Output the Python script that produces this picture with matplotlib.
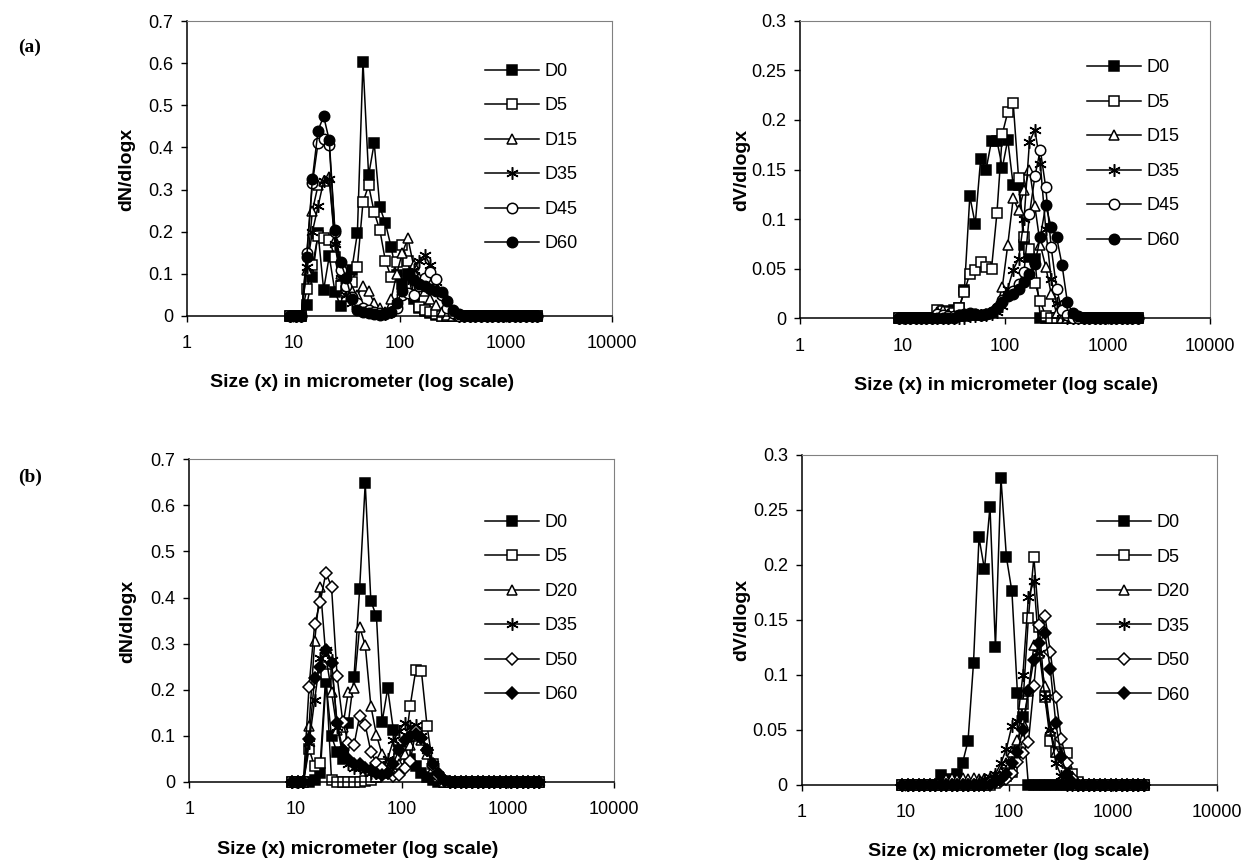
import matplotlib
matplotlib.use("Agg")
import matplotlib.pyplot as plt
from matplotlib.ticker import FuncFormatter, FixedLocator, NullLocator

plt.rcParams['font.family'] = ['Liberation Sans', 'DejaVu Sans']

# particle size classes (micrometer)
size = [9.30, 10.50, 11.87, 13.40, 15.14, 17.10, 19.31, 21.81, 24.64, 27.83,
        31.43, 35.50, 40.10, 45.29, 51.16, 57.78, 65.27, 73.72, 83.27, 94.05,
        106.2, 120.0, 135.5, 153.1, 172.9, 195.3, 220.6, 249.2, 281.4, 317.9,
        359.1, 405.6, 458.1, 517.4, 584.4, 660.1, 745.6, 842.2, 951.2, 1074,
        1214, 1371, 1548, 1749, 1975]

# (a) number distribution
a_labels = ["D0", "D5", "D15", "D35", "D45", "D60"]
a_n_d0 = [0, 0, 0, 0.026, 0.093, 0.198, 0.062, 0.142, 0.058, 0.024,
          0.09, 0.11, 0.196, 0.603, 0.334, 0.41, 0.258, 0.22, 0.164, 0.097,
          0.077, 0.1, 0.04, 0.02, 0.012, 0.006, 0.002, 0, 0, 0,
          0, 0, 0, 0, 0, 0, 0, 0, 0, 0, 0, 0, 0, 0, 0]
a_n_d5 = [0, 0, 0, 0.063, 0.12, 0.19, 0.185, 0.18, 0.14, 0.07,
          0.06, 0.08, 0.117, 0.27, 0.31, 0.246, 0.204, 0.13, 0.093, 0.128,
          0.168, 0.13, 0.05, 0.022, 0.015, 0.01, 0.004, 0, 0, 0,
          0, 0, 0, 0, 0, 0, 0, 0, 0, 0, 0, 0, 0, 0, 0]
a_n_d15 = [0, 0, 0, 0.11, 0.25, 0.31, 0.32, 0.33, 0.18, 0.1,
           0.07, 0.06, 0.05, 0.07, 0.06, 0.03, 0.02, 0.01, 0.04, 0.1,
           0.15, 0.184, 0.12, 0.09, 0.06, 0.04, 0.025, 0.01, 0.003, 0,
           0, 0, 0, 0, 0, 0, 0, 0, 0, 0, 0, 0, 0, 0, 0]
a_n_d35 = [0, 0, 0, 0.117, 0.2, 0.26, 0.32, 0.325, 0.17, 0.09,
           0.05, 0.03, 0.02, 0.015, 0.01, 0.008, 0.005, 0.005, 0.01, 0.03,
           0.06, 0.09, 0.11, 0.13, 0.145, 0.12, 0.08, 0.05, 0.025, 0.008,
           0, 0, 0, 0, 0, 0, 0, 0, 0, 0, 0, 0, 0, 0, 0]
a_n_d45 = [0, 0, 0, 0.15, 0.315, 0.41, 0.42, 0.405, 0.2, 0.11,
           0.07, 0.045, 0.03, 0.02, 0.015, 0.01, 0.008, 0.006, 0.01, 0.02,
           0.05, 0.055, 0.05, 0.07, 0.09, 0.105, 0.087, 0.05, 0.02, 0.006,
           0, 0, 0, 0, 0, 0, 0, 0, 0, 0, 0, 0, 0, 0, 0]
a_n_d60 = [0, 0, 0, 0.14, 0.326, 0.44, 0.474, 0.417, 0.204, 0.129,
           0.09, 0.04, 0.015, 0.01, 0.008, 0.005, 0.003, 0.005, 0.01, 0.03,
           0.06, 0.1, 0.085, 0.075, 0.07, 0.065, 0.06, 0.058, 0.035, 0.015,
           0.005, 0, 0, 0, 0, 0, 0, 0, 0, 0, 0, 0, 0, 0, 0]

# (a) volume distribution
a_v_d0 = [0, 0, 0, 0, 0, 0, 0, 0, 0, 0.005,
          0.008, 0.01, 0.029, 0.123, 0.095, 0.161, 0.15, 0.179, 0.179, 0.152,
          0.18, 0.134, 0.134, 0.074, 0.062, 0.06, 0, 0, 0, 0,
          0, 0, 0, 0, 0, 0, 0, 0, 0, 0, 0, 0, 0, 0, 0]
a_v_d5 = [0, 0, 0, 0, 0, 0, 0, 0.008, 0.007, 0.006,
          0.005, 0.01, 0.027, 0.045, 0.049, 0.057, 0.052, 0.05, 0.106, 0.186,
          0.208, 0.217, 0.141, 0.082, 0.07, 0.036, 0.017, 0.002, 0, 0,
          0, 0, 0, 0, 0, 0, 0, 0, 0, 0, 0, 0, 0, 0, 0]
a_v_d15 = [0, 0, 0, 0, 0, 0, 0, 0.006, 0.008, 0.004,
           0.002, 0.002, 0.002, 0.003, 0.003, 0.003, 0.004, 0.006, 0.012, 0.032,
           0.074, 0.121, 0.109, 0.129, 0.15, 0.113, 0.074, 0.052, 0.025, 0.005,
           0, 0, 0, 0, 0, 0, 0, 0, 0, 0, 0, 0, 0, 0, 0]
a_v_d35 = [0, 0, 0, 0, 0, 0, 0, 0, 0, 0,
           0, 0, 0, 0.002, 0.002, 0.003, 0.003, 0.004, 0.006, 0.012,
           0.03, 0.049, 0.06, 0.1, 0.178, 0.19, 0.156, 0.09, 0.04, 0.015,
           0.005, 0, 0, 0, 0, 0, 0, 0, 0, 0, 0, 0, 0, 0, 0]
a_v_d45 = [0, 0, 0, 0, 0, 0, 0, 0.004, 0.003, 0.002,
           0.002, 0.003, 0.003, 0.004, 0.004, 0.003, 0.004, 0.006, 0.01, 0.018,
           0.024, 0.028, 0.035, 0.047, 0.105, 0.143, 0.17, 0.132, 0.072, 0.03,
           0.008, 0.003, 0, 0, 0, 0, 0, 0, 0, 0, 0, 0, 0, 0, 0]
a_v_d60 = [0, 0, 0, 0, 0, 0, 0, 0, 0, 0,
           0, 0.003, 0.004, 0.005, 0.004, 0.003, 0.004, 0.006, 0.01, 0.016,
           0.022, 0.025, 0.03, 0.037, 0.045, 0.055, 0.082, 0.114, 0.092, 0.082,
           0.054, 0.016, 0.005, 0.002, 0, 0, 0, 0, 0, 0, 0, 0, 0, 0, 0]

# (b) number distribution
b_labels = ["D0", "D5", "D20", "D35", "D50", "D60"]
b_n_d0 = [0, 0, 0, 0, 0.005, 0.02, 0.216, 0.099, 0.064, 0.05,
          0.129, 0.227, 0.418, 0.648, 0.393, 0.359, 0.13, 0.203, 0.113, 0.07,
          0.06, 0.05, 0.035, 0.02, 0.01, 0.004, 0, 0, 0, 0,
          0, 0, 0, 0, 0, 0, 0, 0, 0, 0, 0, 0, 0, 0, 0]
b_n_d5 = [0, 0, 0, 0.071, 0.034, 0.041, 0.234, 0.005, 0, 0,
          0, 0, 0, 0.002, 0.005, 0.01, 0.02, 0.03, 0.04, 0.05,
          0.066, 0.165, 0.243, 0.24, 0.122, 0.04, 0.01, 0.002, 0, 0,
          0, 0, 0, 0, 0, 0, 0, 0, 0, 0, 0, 0, 0, 0, 0]
b_n_d20 = [0, 0, 0, 0.122, 0.305, 0.424, 0.272, 0.196, 0.113, 0.12,
           0.196, 0.203, 0.336, 0.297, 0.165, 0.102, 0.06, 0.04, 0.03, 0.04,
           0.06, 0.08, 0.1, 0.09, 0.06, 0.03, 0.01, 0, 0, 0,
           0, 0, 0, 0, 0, 0, 0, 0, 0, 0, 0, 0, 0, 0, 0]
b_n_d35 = [0, 0, 0, 0.084, 0.178, 0.27, 0.286, 0.265, 0.12, 0.06,
           0.04, 0.03, 0.03, 0.025, 0.02, 0.02, 0.03, 0.05, 0.09, 0.11,
           0.128, 0.12, 0.124, 0.1, 0.07, 0.04, 0.015, 0.004, 0, 0,
           0, 0, 0, 0, 0, 0, 0, 0, 0, 0, 0, 0, 0, 0, 0]
b_n_d50 = [0, 0, 0, 0.206, 0.342, 0.391, 0.454, 0.424, 0.229, 0.131,
           0.084, 0.08, 0.143, 0.124, 0.066, 0.041, 0.03, 0.02, 0.012, 0.015,
           0.03, 0.045, 0.11, 0.095, 0.07, 0.035, 0.012, 0.004, 0, 0,
           0, 0, 0, 0, 0, 0, 0, 0, 0, 0, 0, 0, 0, 0, 0]
b_n_d60 = [0, 0, 0, 0.093, 0.225, 0.25, 0.287, 0.258, 0.128, 0.07,
           0.05, 0.04, 0.04, 0.03, 0.025, 0.02, 0.015, 0.02, 0.04, 0.07,
           0.09, 0.1, 0.105, 0.095, 0.07, 0.04, 0.02, 0.005, 0, 0,
           0, 0, 0, 0, 0, 0, 0, 0, 0, 0, 0, 0, 0, 0, 0]

# (b) volume distribution
b_v_d0 = [0, 0, 0, 0, 0, 0, 0, 0.009, 0.005, 0.003,
          0.01, 0.02, 0.04, 0.111, 0.225, 0.196, 0.253, 0.125, 0.279, 0.207,
          0.176, 0.084, 0.062, 0, 0, 0, 0, 0, 0, 0,
          0, 0, 0, 0, 0, 0, 0, 0, 0, 0, 0, 0, 0, 0, 0]
b_v_d5 = [0, 0, 0, 0, 0, 0, 0, 0, 0, 0,
          0, 0, 0, 0, 0, 0, 0, 0.002, 0.005, 0.008,
          0.012, 0.03, 0.074, 0.152, 0.207, 0.144, 0.08, 0.04, 0.03, 0.028,
          0.029, 0.01, 0.003, 0, 0, 0, 0, 0, 0, 0, 0, 0, 0, 0, 0]
b_v_d20 = [0, 0, 0, 0, 0, 0, 0, 0.003, 0.005, 0.006,
           0.005, 0.006, 0.005, 0.006, 0.005, 0.005, 0.006, 0.008, 0.012, 0.02,
           0.03, 0.041, 0.056, 0.085, 0.127, 0.12, 0.09, 0.05, 0.03, 0.028,
           0.02, 0.008, 0, 0, 0, 0, 0, 0, 0, 0, 0, 0, 0, 0, 0]
b_v_d35 = [0, 0, 0, 0, 0, 0, 0, 0, 0, 0,
           0, 0, 0, 0, 0.003, 0.005, 0.007, 0.01, 0.02, 0.033,
           0.054, 0.058, 0.1, 0.171, 0.185, 0.12, 0.08, 0.05, 0.02, 0.008,
           0, 0, 0, 0, 0, 0, 0, 0, 0, 0, 0, 0, 0, 0, 0]
b_v_d50 = [0, 0, 0, 0, 0, 0, 0, 0, 0, 0,
           0, 0, 0, 0, 0, 0, 0.002, 0.003, 0.004, 0.005,
           0.011, 0.021, 0.029, 0.039, 0.09, 0.145, 0.154, 0.121, 0.08, 0.042,
           0.02, 0.006, 0, 0, 0, 0, 0, 0, 0, 0, 0, 0, 0, 0, 0]
b_v_d60 = [0, 0, 0, 0, 0, 0, 0, 0, 0, 0,
           0, 0, 0, 0, 0, 0, 0, 0.003, 0.005, 0.01,
           0.02, 0.03, 0.05, 0.085, 0.114, 0.129, 0.138, 0.105, 0.056, 0.025,
           0.01, 0.003, 0, 0, 0, 0, 0, 0, 0, 0, 0, 0, 0, 0, 0]

a_styles = [("s", "black"), ("s", "white"), ("^", "white"),
            ((6, 2, 0), "black"), ("o", "white"), ("o", "black")]
b_styles = [("s", "black"), ("s", "white"), ("^", "white"),
            ((6, 2, 0), "black"), ("D", "white"), ("D", "black")]


def panel(rect, series, labels, styles, ymax, ystep, leg_xy):
    ax = fig.add_axes(rect)
    for y, lab, (mk, fc) in zip(series, labels, styles):
        ms = 6.5 if mk == "D" else 7.5
        if mk == (6, 2, 0):
            ms = 9
        ax.plot(size, y, color="black", lw=1.1, marker=mk, markersize=ms,
                markerfacecolor=fc, markeredgecolor="black", markeredgewidth=1.1,
                label=lab, clip_on=False)
    ax.set_xscale("log")
    ax.set_xlim(1, 10000)
    ax.set_ylim(0, ymax)
    ax.xaxis.set_major_locator(FixedLocator([1, 10, 100, 1000, 10000]))
    ax.xaxis.set_minor_locator(NullLocator())
    ax.xaxis.set_major_formatter(FuncFormatter(lambda v, p: "%g" % v))
    n = int(round(ymax / ystep))
    ax.set_yticks([round(k * ystep, 3) for k in range(n + 1)])
    ax.yaxis.set_major_formatter(FuncFormatter(lambda v, p: "%g" % round(v, 3)))
    ax.tick_params(direction="out", length=4, width=1, labelsize=13)
    ax.tick_params(axis="x", pad=10)
    ax.tick_params(axis="y", pad=6)
    for s in ["top", "right"]:
        ax.spines[s].set_color("#808080")
    for s in ["left", "bottom"]:
        ax.spines[s].set_color("black")
        ax.spines[s].set_linewidth(1.1)
    ax.legend(loc="upper left", bbox_to_anchor=leg_xy, frameon=False,
              fontsize=13, handlelength=3.0, handletextpad=0.3,
              labelspacing=0.97, borderpad=0, borderaxespad=0)
    return ax


fig = plt.figure(figsize=(12.46, 8.65), dpi=100)

panel([0.1501, 0.6347, 0.3411, 0.3410],
      [a_n_d0, a_n_d5, a_n_d15, a_n_d35, a_n_d45, a_n_d60],
      a_labels, a_styles, 0.7, 0.1, (0.70, 0.858))
panel([0.6421, 0.6320, 0.3291, 0.3440],
      [a_v_d0, a_v_d5, a_v_d15, a_v_d35, a_v_d45, a_v_d60],
      a_labels, a_styles, 0.3, 0.05, (0.70, 0.870))
panel([0.1519, 0.0960, 0.3411, 0.3730],
      [b_n_d0, b_n_d5, b_n_d20, b_n_d35, b_n_d50, b_n_d60],
      b_labels, b_styles, 0.7, 0.1, (0.696, 0.831))
panel([0.6434, 0.0925, 0.3331, 0.3815],
      [b_v_d0, b_v_d5, b_v_d20, b_v_d35, b_v_d50, b_v_d60],
      b_labels, b_styles, 0.3, 0.05, (0.712, 0.821))

W, H = 1246, 865
lab_kw = dict(fontsize=14, fontweight="bold", ha="center", va="center")
fig.text(362 / W, 1 - 383 / H, "Size (x) in micrometer (log scale)", **lab_kw)
fig.text(1006 / W, 1 - 385 / H, "Size (x) in micrometer (log scale)", **lab_kw)
fig.text(358 / W, 1 - 850 / H, "Size (x) micrometer (log scale)", **lab_kw)
fig.text(1009 / W, 1 - 852 / H, "Size (x) micrometer (log scale)", **lab_kw)

fig.text(127 / W, 1 - 169 / H, "dN/dlogx", rotation=90, **lab_kw)
fig.text(742 / W, 1 - 170 / H, "dV/dlogx", rotation=90, **lab_kw)
fig.text(128 / W, 1 - 621 / H, "dN/dlogx", rotation=90, **lab_kw)
fig.text(742 / W, 1 - 620 / H, "dV/dlogx", rotation=90, **lab_kw)

fig.text(18 / W, 1 - 47 / H, "(a)", fontsize=14, fontweight="bold",
         family="Liberation Serif", va="center")
fig.text(18 / W, 1 - 477 / H, "(b)", fontsize=14, fontweight="bold",
         family="Liberation Serif", va="center")

fig.savefig("out.png", dpi=100)
